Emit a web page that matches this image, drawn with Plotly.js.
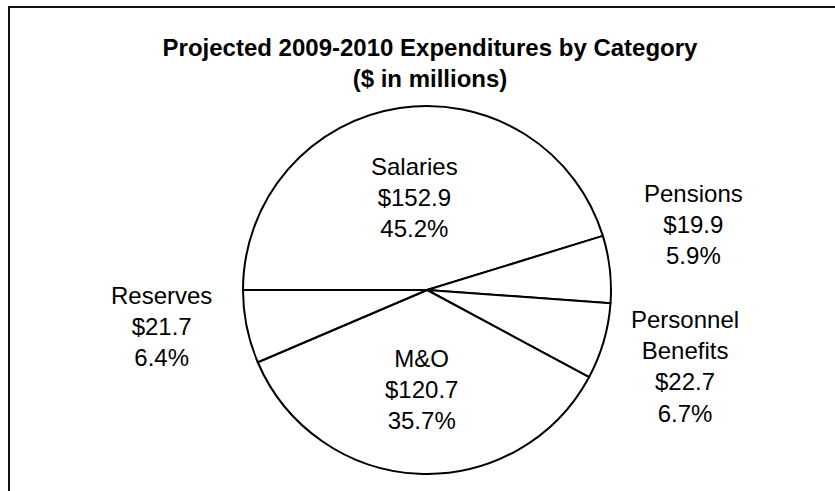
<!DOCTYPE html>
<html>
<head>
<meta charset="utf-8">
<script src="https://cdn.plot.ly/plotly-3.0.1.min.js"></script>
<style>
  html, body { margin: 0; padding: 0; background: #fff; }
  #wrap { position: relative; width: 835px; height: 491px; overflow: hidden; }
  #chart { position: absolute; left: 0; top: 0; width: 835px; height: 491px; }
  #frame { position: absolute; left: 8px; top: 6px; right: -4px; bottom: -4px;
           border-left: 2px solid #111; border-top: 2px solid #111; pointer-events: none; }
</style>
</head>
<body>
<div id="wrap">
  <div id="chart"></div>
  <div id="frame"></div>
</div>
<script>
// Data
const categories = ["Salaries", "Pensions", "Personnel<br>Benefits", "M&O", "Reserves"];
const amounts = [152.9, 19.9, 22.7, 120.7, 21.7];        // $ in millions
const percents = [45.2, 5.9, 6.7, 35.7, 6.4];             // % of total, as labelled

// Label placement (pixel centres within the 835x491 figure)
const labelPos = [
  [414, 197],
  [693, 224],
  [685, 366],
  [421, 389],
  [161, 326]
];

const W = 835, H = 491;
const cx = 427, cy = 290, R = 184;

const trace = {
  type: "pie",
  labels: categories,
  values: amounts,
  sort: false,
  direction: "clockwise",
  rotation: -90,
  textinfo: "none",
  hoverinfo: "label+value+percent",
  showlegend: false,
  marker: {
    colors: categories.map(() => "#ffffff"),
    line: { color: "#000000", width: 2 }
  },
  domain: {
    x: [(cx - R) / W, (cx + R) / W],
    y: [1 - (cy + R) / H, 1 - (cy - R) / H]
  }
};

const annotations = categories.map((c, i) => ({
  xref: "paper", yref: "paper",
  x: labelPos[i][0] / W,
  y: 1 - labelPos[i][1] / H,
  xanchor: "center", yanchor: "middle",
  showarrow: false,
  align: "center",
  text: c + "<br>$" + amounts[i].toFixed(1) + "<br>" + percents[i].toFixed(1) + "%",
  font: { family: "Liberation Sans, Arial, sans-serif", size: 24, color: "#000" }
}));

const layout = {
  width: W, height: H,
  margin: { l: 0, r: 0, t: 0, b: 0 },
  paper_bgcolor: "#ffffff",
  plot_bgcolor: "#ffffff",
  title: {
    text: "<b>Projected 2009-2010 Expenditures by Category<br>($ in millions)</b>",
    x: 430 / W, xanchor: "center",
    y: 1 - 55.5 / H, yanchor: "middle",
    font: { family: "Liberation Sans, Arial, sans-serif", size: 24, color: "#000" }
  },
  annotations: annotations
};

Plotly.newPlot("chart", [trace], layout, { displayModeBar: false, staticPlot: true });
</script>
</body>
</html>
